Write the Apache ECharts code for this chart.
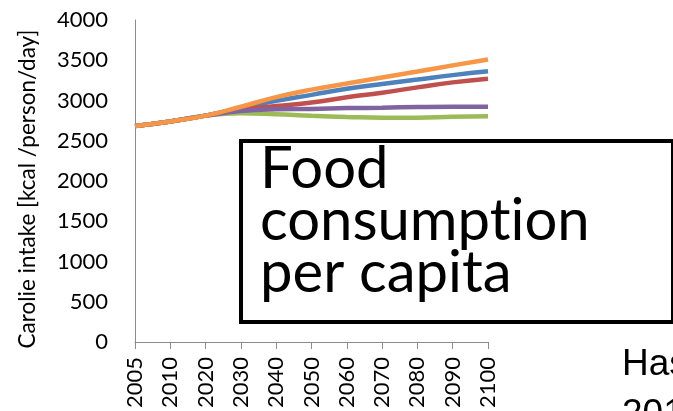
<!DOCTYPE html>
<html>
<head>
<meta charset="utf-8">
<style>
  html, body { margin: 0; padding: 0; background: #fff; }
  #chart { width: 673px; height: 411px; }
</style>
<script src="https://cdn.jsdelivr.net/npm/echarts@6/dist/echarts.min.js"></script>
</head>
<body>
<div id="chart"></div>
<script>
// Scenario years on the x axis
const years = ['2005', '2010', '2020', '2030', '2040', '2050', '2060', '2070', '2080', '2090', '2100'];

// Calorie intake per scenario [kcal/person/day]
const seriesBlue   = [2683, 2740, 2812, 2905, 2995, 3070, 3145, 3205, 3260, 3315, 3362];
const seriesRed    = [2683, 2740, 2812, 2885, 2931, 2975, 3039, 3097, 3163, 3225, 3270];
const seriesGreen  = [2683, 2740, 2812, 2840, 2828, 2809, 2795, 2786, 2786, 2798, 2803];
const seriesPurple = [2683, 2740, 2812, 2869, 2890, 2895, 2906, 2910, 2919, 2923, 2923];
const seriesOrange = [2683, 2740, 2812, 2922, 3042, 3135, 3210, 3285, 3360, 3436, 3510];

const yAxisName = 'Carolie intake [kcal /person/day]';
// Box caption, split into rich-text runs so "t" and "i" are drawn as separate glyphs
const boxText = '{w|Food}\n{w|consumpt}{w|ion}\n{w|per capita}';
const sourceText = 'Hasegawa\n2015';

const font = 'Lato, "Open Sans", sans-serif';

function line(data, color) {
  return {
    type: 'line',
    data: data,
    smooth: true,
    symbol: 'none',
    lineStyle: { color: color, width: 4.5 },
    itemStyle: { color: color }
  };
}

const chart = echarts.init(document.getElementById('chart'), null, { renderer: 'canvas' });
chart.setOption({
  animation: false,
  grid: { left: 135, top: 20, width: 353, height: 322, containLabel: false },
  xAxis: {
    type: 'category',
    data: years,
    boundaryGap: false,
    axisLine: { lineStyle: { color: '#8c8c8c', width: 1 } },
    axisTick: { show: true, length: 7, lineStyle: { color: '#8c8c8c' } },
    axisLabel: { rotate: 90, margin: 15, fontSize: 22, color: '#000', fontFamily: font },
    splitLine: { show: false }
  },
  yAxis: {
    type: 'value',
    min: 0,
    max: 4000,
    interval: 500,
    name: yAxisName,
    nameLocation: 'middle',
    nameGap: 96,
    nameTextStyle: { fontSize: 22.5, color: '#000', fontFamily: font, padding: [0, 16, 0, 0] },
    axisLine: { show: true, lineStyle: { color: '#8c8c8c', width: 1 } },
    axisTick: { show: false },
    axisLabel: {
      margin: 27, fontSize: 22, color: '#000', fontFamily: font,
      formatter: function (v) { return String(v); }
    },
    splitLine: { show: false }
  },
  series: [
    line(seriesBlue, '#4F81BD'),
    line(seriesRed, '#C0504D'),
    line(seriesGreen, '#9BBB59'),
    line(seriesPurple, '#8064A2'),
    line(seriesOrange, '#F79646')
  ],
  graphic: [
    {
      type: 'rect',
      shape: { x: 241, y: 141, width: 432, height: 181 },
      style: { fill: '#fff', stroke: '#000', lineWidth: 4 },
      z: 100
    },
    {
      type: 'text',
      left: 260,
      top: 140,
      style: {
        text: boxText,
        rich: {
          w: {
            fontFamily: font,
            fontSize: 58,
            lineHeight: 52,
            fill: '#000',
            color: '#000'
          }
        }
      },
      z: 101
    },
    {
      type: 'text',
      left: 622,
      top: 340,
      style: {
        text: sourceText,
        font: '37px "Liberation Sans", Arial, sans-serif',
        lineHeight: 50,
        fill: '#000'
      },
      z: 101
    }
  ]
});
</script>
</body>
</html>
